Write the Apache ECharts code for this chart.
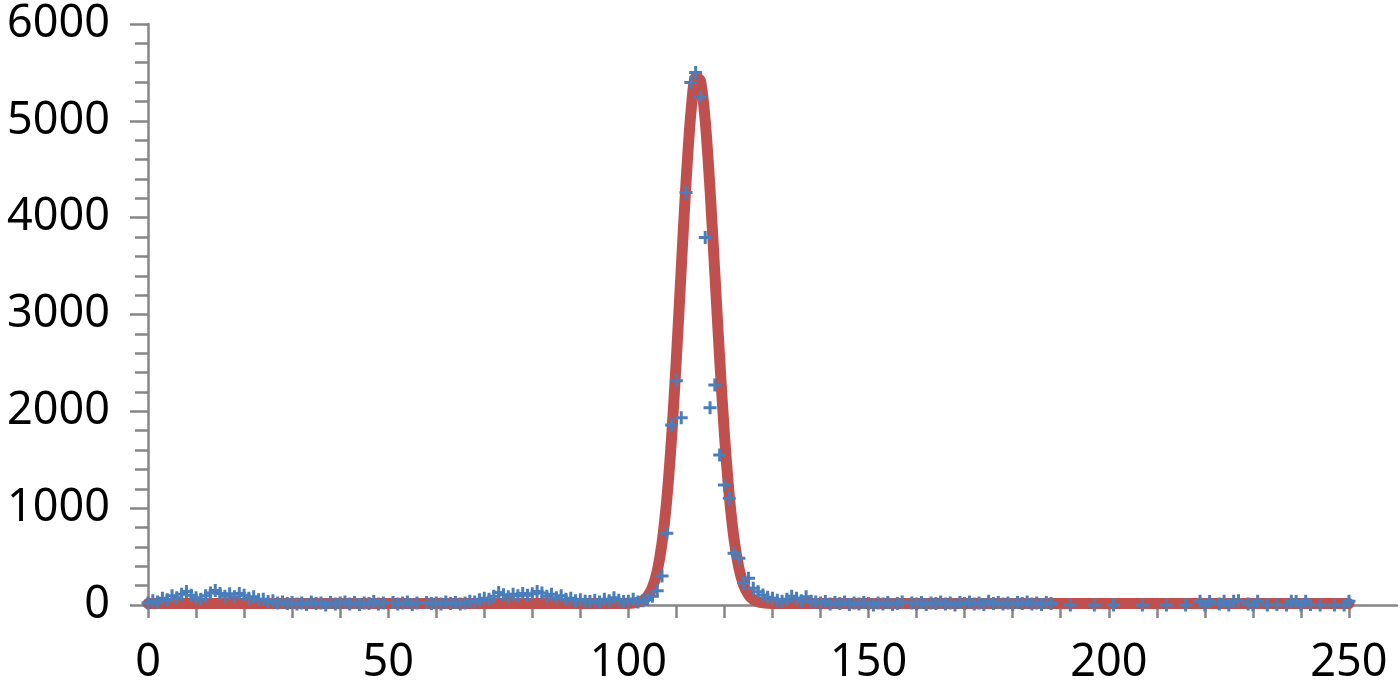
<!DOCTYPE html>
<html>
  <head>
  <meta charset="utf-8">
    <script type="text/javascript" src="https://cdn.jsdelivr.net/npm/echarts@6/dist/echarts.min.js"></script>
    <style>
      html, body { margin: 0; padding: 0; background: #fff; }
    </style>
  </head>

 <body>
     <div id="main" style="width:1400px;height:690px;"></div>
     <script type="text/javascript">
    // measured counts, one per channel 0..250
    var counts = [
        20, 45, 30, 70, 55, 95, 75, 110, 140, 100,
        75, 60, 95, 125, 150, 120, 90, 115, 85, 120,
        100, 70, 85, 55, 60, 35, 45, 20, 30, 15,
        25, 10, 20, 5, 30, 15, 20, 0, 25, 10,
        20, 30, 10, 25, 5, 20, 15, 35, 10, 20,
        -15, 25, 10, 20, 30, 5, 20, -10, 25, 15,
        20, 10, 30, 15, 25, 10, 20, 40, 30, 55,
        70, 60, 90, 130, 105, 85, 110, 95, 120, 100,
        115, 140, 125, 90, 110, 75, 95, 60, 70, 45,
        55, 40, 35, 50, 30, 60, 45, 75, 50, 35,
        40, 60, 30, 45, 59, 90, 148, 300, 741, 1860,
        2317, 1935, 4260, 5396, 5500, 5245, 3795, 2038, 2273, 1550,
        1240, 1102, 534, 482, 230, 276, 172, 137, 103, 80,
        70, 50, 40, 60, 90, 70, 45, 85, 40, 30,
        20, 35, 10, 25, 15, 30, 5, 20, 10, 25,
        15, 0, 20, 10, 25, 5, 15, 30, -10, 20,
        10, 25, 5, 20, 15, 30, 10, 20, 0, 25,
        15, 30, 10, 20, 5, 40, 15, 25, 10, 20,
        5, 25, 15, 30, 10, 20, 5, 25, 15, -10,
        -5, -15, 0, -10, -20, -5, -15, 0, -10, -5,
        -15, 0, -10, -5, -20, -5, -15, 0, -10, -5,
        -15, -5, 0, -10, -5, -15, 0, -10, -5, 40,
        0, 35, -5, 10, 40, 0, 40, 45, -5, 10,
        0, 40, -10, 0, -5, 5, -10, 0, 40, 35,
        0, 40, 5, -10, 0, -5, -10, 0, -5, 0,
        40
    ];
    // fitted peak (red curve)
    var fitX = [0, 98, 99, 100, 101, 102, 103, 104, 105, 106, 107, 108, 109,
        110, 111, 112, 113, 114, 115, 116, 117, 118, 119,
        120, 121, 122, 123, 124, 125, 126, 127, 128, 129, 130, 131, 132, 250];
    var fitY = [15, 15, 16, 17, 20, 28, 46, 90, 180, 348, 640, 1092, 1735,
        2552, 3472, 4367, 5075, 5450, 5414, 4998, 4288, 3423, 2542,
        1756, 1131, 680, 383, 204, 106, 55, 32, 22, 18, 16, 15, 15, 15];
    var xTickValues = [];
    for (var t = 0; t <= 250; t += 10) xTickValues.push(t);
    var xLabelValues = [0, 50, 100, 150, 200, 250];

    var points = counts.map(function (v, i) { return [i, v]; });
    var fitLine = fitX.map(function (x, i) { return [x, fitY[i]]; });

    var plus = 'path://M5,0H8V5H13V8H8V13H5V8H0V5H5Z';
    var axisColor = '#868686';
    var labelFont = { color: '#000', fontFamily: 'Noto Sans', fontSize: 45,
        formatter: function (v) { return String(v); } };

    var myChart = echarts.init(document.getElementById('main'));
    var option = {
        animation: false,
        grid: { left: 148, right: 3, top: 24, bottom: 85, outerBoundsMode: 'none', containLabel: false },
        xAxis: {
            type: 'value',
            min: 0,
            max: 260,
            interval: 10,
            splitLine: { show: false },
            axisLine: { onZero: false, lineStyle: { color: axisColor, width: 2.5 } },
            axisTick: { show: true, customValues: xTickValues, length: 13,
                lineStyle: { color: axisColor, width: 2.5 } },
            axisLabel: Object.assign({ customValues: xLabelValues, margin: 36 }, labelFont)
        },
        yAxis: {
            type: 'value',
            min: 0,
            max: 6000,
            interval: 1000,
            splitLine: { show: false },
            axisLine: { show: true, lineStyle: { color: axisColor, width: 2.5 } },
            axisTick: { show: true, length: 18, lineStyle: { color: axisColor, width: 2.5 } },
            minorTick: { show: true, splitNumber: 5, length: 13,
                lineStyle: { color: axisColor, width: 2.5 } },
            axisLabel: Object.assign({ margin: 38 }, labelFont)
        },
        series: [
            {
                type: 'line',
                data: fitLine,
                smooth: 0.25,
                symbol: 'none',
                lineStyle: { color: '#C0504D', width: 11, cap: 'round', join: 'round' },
                z: 2
            },
            {
                type: 'scatter',
                data: points,
                symbol: plus,
                symbolSize: 13,
                itemStyle: { color: '#4A7EBB', opacity: 1 },
                z: 3
            }
        ]
    };
    myChart.setOption(option);
    </script>

  </body>
</html>
